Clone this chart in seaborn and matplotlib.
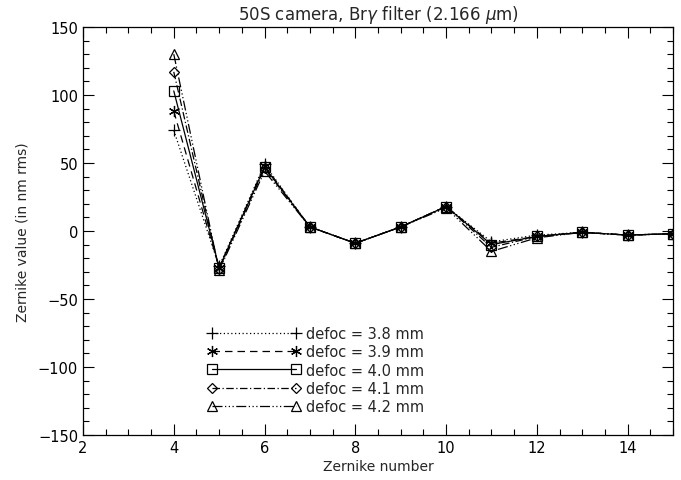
import matplotlib
matplotlib.use("Agg")
import matplotlib.pyplot as plt
import seaborn as sns
import pandas as pd
import numpy as np
from matplotlib.ticker import MultipleLocator

zernike = [4, 5, 6, 7, 8, 9, 10, 11, 12, 13, 14, 15]
defoc_38 = [74, -26, 49, 3, -9, 3, 18, -8, -3, -1, -3, -2]
defoc_39 = [88, -27, 48, 3, -9, 3, 18, -9, -4, -1, -3, -2]
defoc_40 = [103, -27, 47, 3, -9, 3, 18, -10, -4, -1, -3, -2]
defoc_41 = [117, -28, 46, 3, -9, 3, 18, -12, -4, -1, -3, -2]
defoc_42 = [130, -29, 44, 3, -9, 3, 17, -15, -5, -1, -3, -2]
labels = ["defoc = 3.8 mm", "defoc = 3.9 mm", "defoc = 4.0 mm",
          "defoc = 4.1 mm", "defoc = 4.2 mm"]
series = [defoc_38, defoc_39, defoc_40, defoc_41, defoc_42]

sns.set_style("ticks")
plt.rcParams['font.family'] = ['DejaVu Sans']

fig = plt.figure(figsize=(6.81, 4.81), dpi=100)
ax = fig.add_axes([83/681, 45/481, 590/681, 408/481])

markers = ['+', (6, 2, 0), 's', 'D', '^']
msizes = [8, 8, 7, 5.5, 7.5]
lstyles = [(0, (1, 2)), (0, (6, 4)), '-', (0, (6, 2, 1, 2)), (0, (8, 2, 1, 2, 1, 2, 1, 2))]

for vals, lab, mk, ms, ls in zip(series, labels, markers, msizes, lstyles):
    df = pd.DataFrame({"z": zernike, "v": vals})
    sns.lineplot(data=df, x="z", y="v", ax=ax, color="black", linewidth=0.9,
                 marker=mk, markersize=ms, markerfacecolor="none",
                 markeredgecolor="black", markeredgewidth=0.9, label=lab)
    ax.lines[-1].set_linestyle(ls)

ax.set_xlim(2, 15)
ax.set_ylim(-150, 150)
ax.xaxis.set_major_locator(MultipleLocator(2))
ax.xaxis.set_minor_locator(MultipleLocator(0.5))
ax.yaxis.set_major_locator(MultipleLocator(50))
ax.yaxis.set_minor_locator(MultipleLocator(10))
ax.tick_params(which='both', direction='in', top=True, right=True, colors='black', labelsize=10.5)
ax.tick_params(which='major', length=8, width=0.8)
ax.tick_params(which='minor', length=4, width=0.8)
for s in ax.spines.values():
    s.set_linewidth(0.9)
    s.set_color('black')

ax.set_xlabel("Zernike number", fontsize=10, labelpad=3)
ax.set_ylabel("Zernike value (in nm rms)", fontsize=10, labelpad=6)
ax.set_title(r"50S camera, Br$\gamma$ filter (2.166 $\mu$m)", fontsize=12, pad=6)

leg = ax.legend(loc='upper left', bbox_to_anchor=(0.202, 0.281), frameon=False,
                numpoints=2, handlelength=6.3, handletextpad=0.45,
                labelspacing=0.22, fontsize=10.5, borderaxespad=0)

fig.savefig("out.png", dpi=100)
